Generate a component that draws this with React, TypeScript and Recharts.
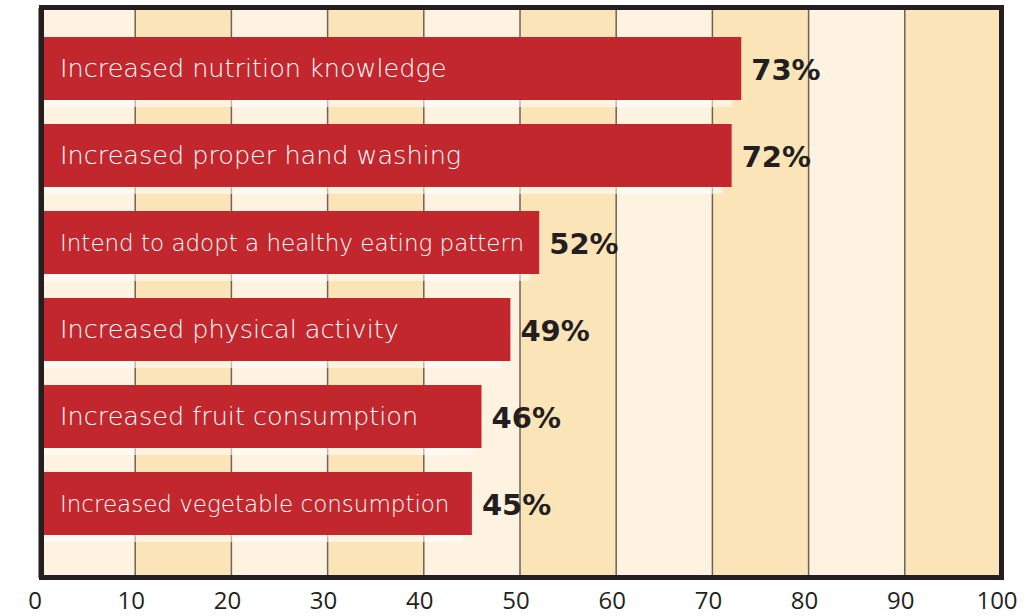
import { BarChart, Bar, XAxis, YAxis, CartesianGrid, LabelList } from 'recharts';

const categories = [
  'Increased nutrition knowledge',
  'Increased proper hand washing',
  'Intend to adopt a healthy eating pattern',
  'Increased physical activity',
  'Increased fruit consumption',
  'Increased vegetable consumption',
];
const percents = [73, 72, 52, 49, 46, 45];
const xTicks = [0, 10, 20, 30, 40, 50, 60, 70, 80, 90, 100];

const data = categories.map((name, i) => ({ name, value: percents[i] }));

const RED = '#C1272D';
const BAND_LIGHT = '#FEF3E1';
const BAND_DARK = '#FCE4B9';
const INK = '#231F20';

// bar with the faint pale strip underneath it
function BarShape(props: any) {
  const { x, y, width, height } = props;
  return (
    <g>
      <rect x={x} y={y + height} width={Math.max(width - 9, 0)} height={7} fill="#ffffff" fillOpacity={0.55} />
      <rect x={x} y={y} width={width} height={height} fill={RED} />
    </g>
  );
}

function InsideLabel(props: any) {
  const { x, y, height, value } = props;
  const small = String(value).length > 30;
  return (
    <text
      x={x + 21}
      y={y + height / 2}
      dy="0.35em"
      fill="#ffffff"
      fontFamily="'DejaVu Sans', sans-serif"
      fontWeight={300}
      fontSize={small ? 23 : 25.5}
    >
      {value}
    </text>
  );
}

function ValueLabel(props: any) {
  const { x, y, width, height, value } = props;
  return (
    <text
      x={x + width + 10}
      y={y + height / 2}
      dy="0.38em"
      fill={INK}
      fontFamily="'DejaVu Sans', sans-serif"
      fontWeight="bold"
      fontSize={29}
    >
      {value}%
    </text>
  );
}

export default function App() {
  return (
    <div style={{ position: 'absolute', left: 0, top: 0, width: 1029, height: 616, background: '#fff' }}>
      <BarChart
        width={1029}
        height={616}
        data={data}
        layout="vertical"
        margin={{ top: 8, right: 28, left: 39, bottom: 0 }}
      >
        <CartesianGrid
          horizontal={false}
          stroke="#6E6256"
          strokeWidth={1.5}
          verticalFill={[BAND_LIGHT, BAND_DARK]}
          fillOpacity={1}
        />
        <XAxis
          type="number"
          domain={[0, 100]}
          ticks={xTicks}
          interval={0}
          axisLine={false}
          tickLine={false}
          height={38}
          tickMargin={8}
          tick={{ fontSize: 24, fill: INK, fontFamily: "'Open Sans', sans-serif", dx: -4 }}
        />
        <YAxis type="category" dataKey="name" hide padding={{ top: 17, bottom: 31 }} />
        <Bar dataKey="value" barSize={63} shape={<BarShape />} isAnimationActive={false}>
          <LabelList dataKey="name" content={<InsideLabel />} />
          <LabelList dataKey="value" content={<ValueLabel />} />
        </Bar>
      </BarChart>
      {/* dark frame around the plot */}
      <div
        style={{
          position: 'absolute',
          left: 39,
          top: 5,
          width: 965,
          height: 575,
          border: `5px solid ${INK}`,
          boxSizing: 'border-box',
          pointerEvents: 'none',
        }}
      />
    </div>
  );
}
